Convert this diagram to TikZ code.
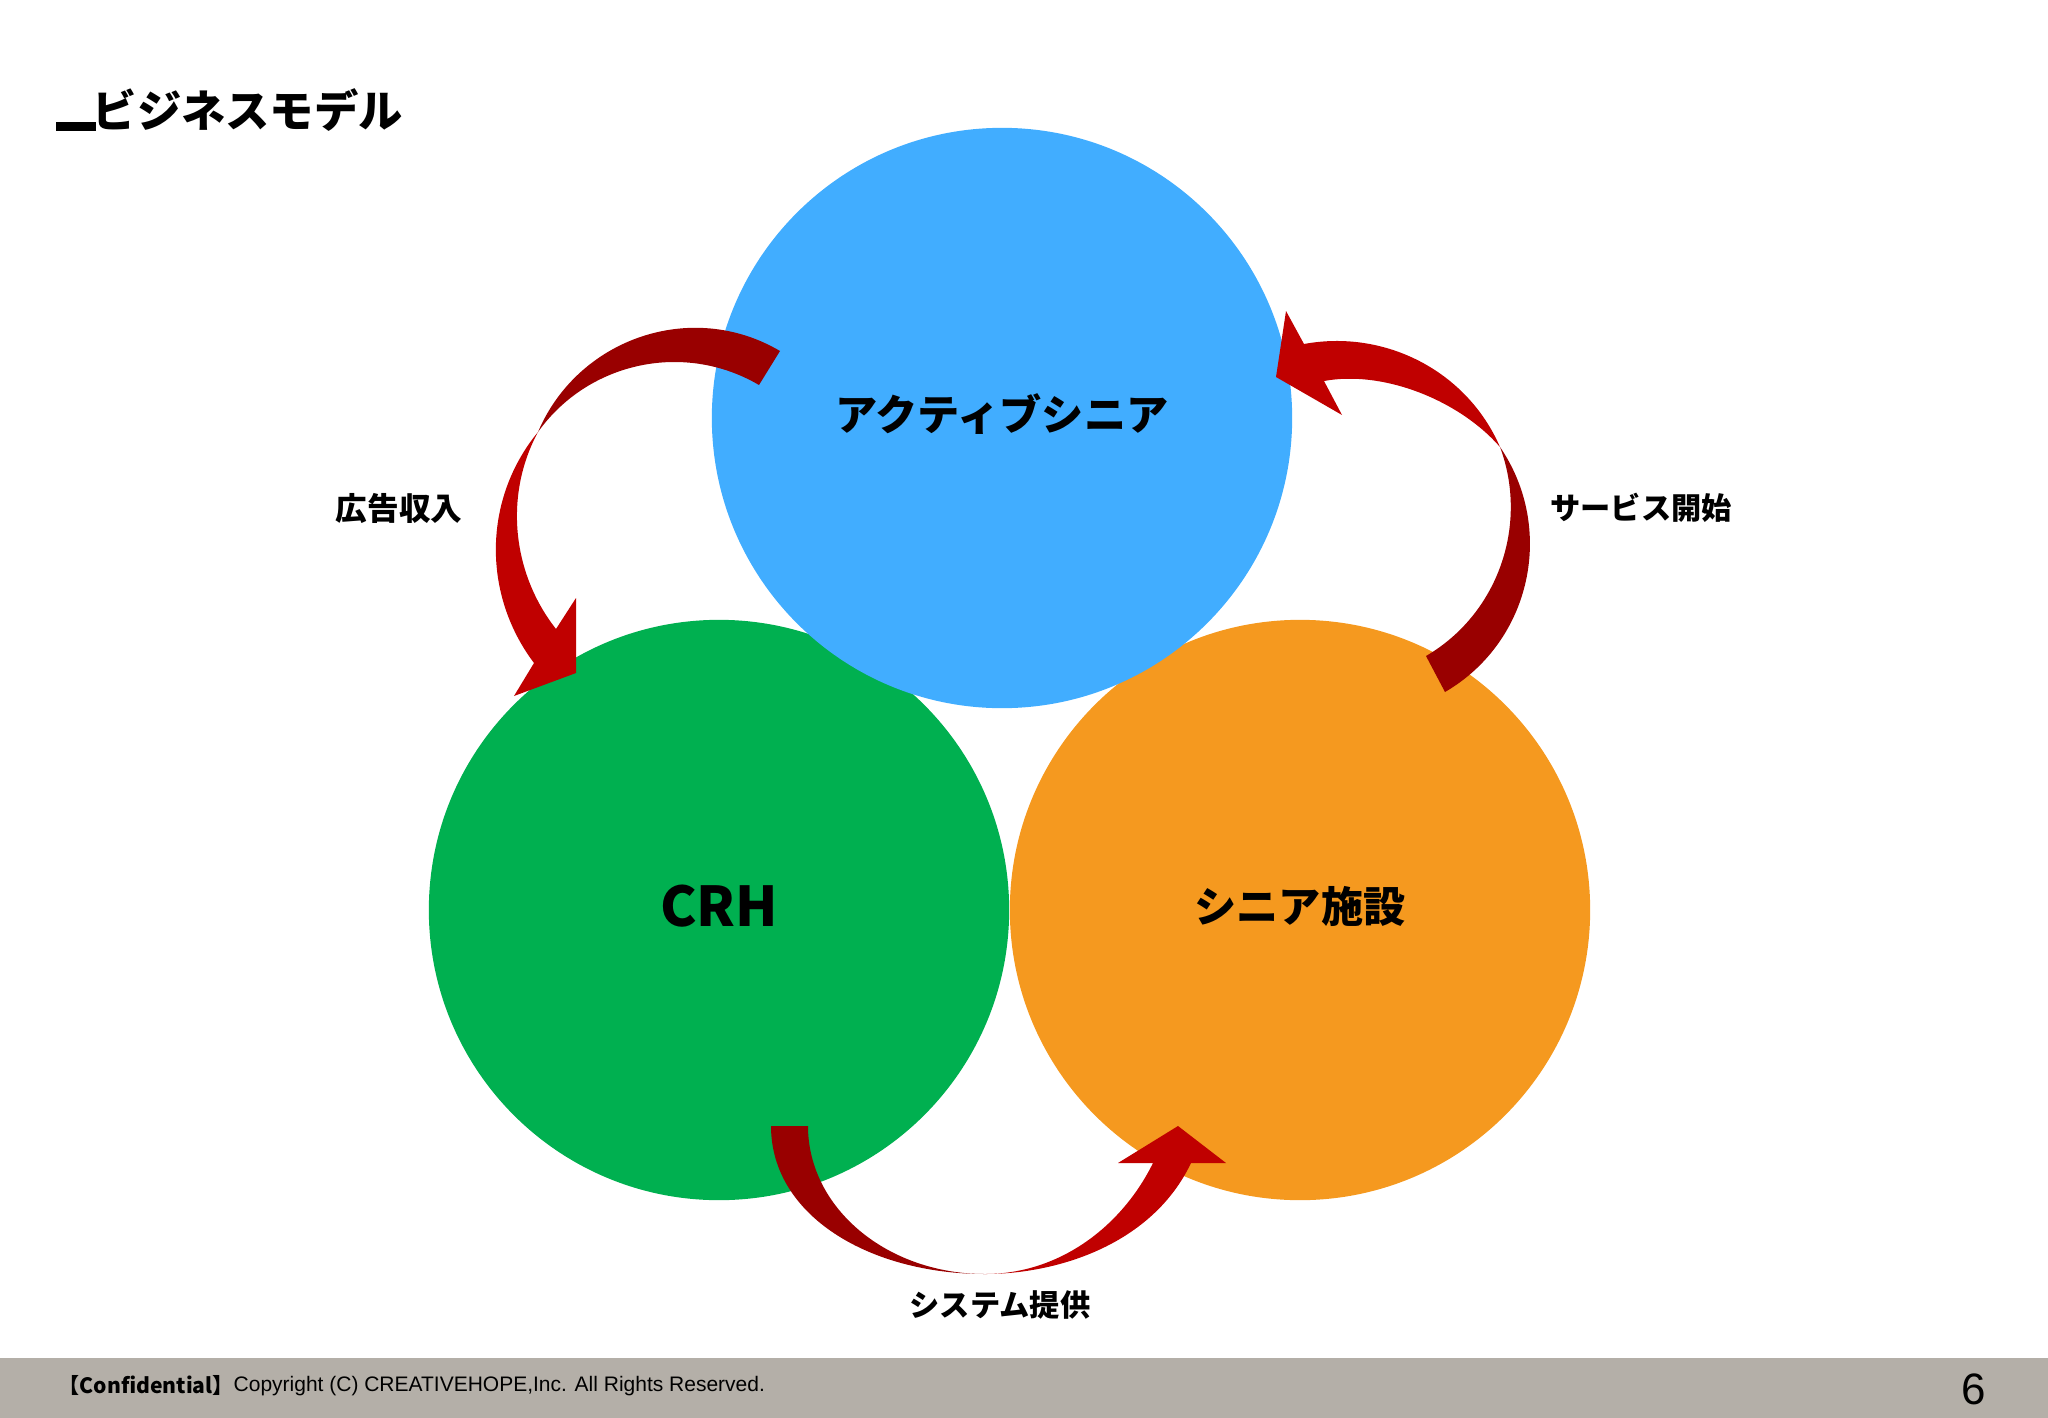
\documentclass[tikz,border=0pt]{standalone}
\usepackage{fontspec}
\setmainfont{Liberation Sans}
\newfontfamily\cjk{Noto Sans CJK JP}
\usepackage{xcolor}
\usepackage{tikz}
\usetikzlibrary{positioning}

\definecolor{skyblue}{HTML}{41ADFF}
\definecolor{leafgreen}{HTML}{00B050}
\definecolor{amber}{HTML}{F5991F}
\definecolor{darkarr}{HTML}{990000}
\definecolor{brightarr}{HTML}{C00000}
\definecolor{footgray}{HTML}{B4AFA8}

\begin{document}
\begin{tikzpicture}[
      x=0.01cm, y=-0.01cm,
      party/.style={circle, minimum size=5.8cm, inner sep=0pt, align=center, font=\cjk\bfseries\fontsize{12}{14}\selectfont},
      lbl/.style={inner sep=0pt, font=\cjk\bfseries\fontsize{8.6}{10}\selectfont},
      tailarr/.style={fill=darkarr},
      headarr/.style={fill=brightarr},
    ]
    \useasboundingbox (0,0) rectangle (2048,1418);

    % Footer
    \fill[footgray] (0,1358) rectangle (2048,1418);
    \node[anchor=west, inner sep=0pt, font=\cjk\bfseries\fontsize{6}{8}\selectfont] (conf) at (58,1385) {【Confidential】};
    \node[anchor=west, inner sep=0pt, font=\fontsize{5.97}{8}\selectfont] (copy) at (233,1386) {Copyright (C) CREATIVEHOPE,Inc. All Rights Reserved.};
    \node[inner sep=0pt, font=\fontsize{12.5}{14}\selectfont] (page) at (1974,1389) {6};

    % Title
    \fill[black] (56,122) rectangle (96,131);
    \node[anchor=west, inner sep=0pt, font=\cjk\bfseries\fontsize{12.6}{15}\selectfont] (title) at (92,110) {ビジネスモデル};

    % Circles
    \node[party, fill=leafgreen] (crh) at (719,910) {\raisebox{2.4pt}{\fontsize{15.6}{18}\selectfont CRH}};
    \node[party, fill=amber] (facility) at (1300,910) {\raisebox{3.3pt}{シニア施設}};
    \node[party, fill=skyblue] (senior) at (1002,418) {\raisebox{3.6pt}{アクティブシニア}};

    % Arrow, top left
    \fill[tailarr] (780,351) .. controls (692,299) and (578,338) .. (538,432)
      .. controls (588,362) and (684,341) .. (759,385) -- cycle;
    \fill[headarr] (538,432) .. controls (483,499) and (482,594) .. (534,663)
      -- (514,696) -- (576,673) -- (576,598) -- (556,629)
      .. controls (512,573) and (504,495) .. (538,432) -- cycle;

    % Arrow, right
    \fill[tailarr] (1445,692) .. controls (1531,642) and (1556,529) .. (1500,447)
      .. controls (1529,525) and (1498,614) .. (1426,656) -- cycle;
    \fill[headarr] (1500,447) .. controls (1467,371) and (1385,329) .. (1304,344)
      -- (1286,311) -- (1276,377) -- (1342,415) -- (1324,381)
      .. controls (1383,370) and (1459,400) .. (1500,447) -- cycle;

    % Arrow, bottom
    \fill[tailarr] (771,1126) .. controls (771,1216) and (870,1274) .. (985,1274)
      .. controls (887,1274) and (808,1208) .. (808,1126) -- cycle;
    \fill[headarr] (985,1274) .. controls (1060,1274) and (1153,1243) .. (1191,1163)
      -- (1226,1163) -- (1178,1126) -- (1118,1163) -- (1153,1163)
      .. controls (1122,1226) and (1060,1274) .. (985,1274) -- cycle;

    % Labels
    \node[lbl, font=\cjk\bfseries\fontsize{9}{10}\selectfont] (revenue) at (399,508) {広告収入};
    \node[lbl] (launch) at (1641,508) {サービス開始};
    \node[lbl] (supply) at (1000,1305) {システム提供};
  \end{tikzpicture}
\end{document}
